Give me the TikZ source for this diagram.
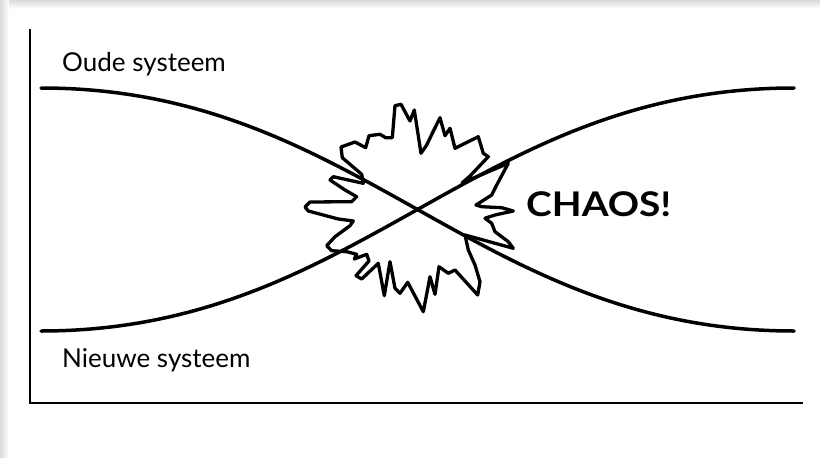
\documentclass[tikz,border=0pt]{standalone}
\usepackage{fontspec}
\setmainfont{Lato}
\begin{document}
\begin{tikzpicture}[x=1pt,y=-1pt,
  curve/.style={line width=3.5pt,line cap=round},
  axis/.style={line width=1.5pt},
  burst/.style={line width=3.3pt,line join=round},
  lbl/.style={anchor=base west,inner sep=0pt,font=\fontsize{26}{28}\selectfont},
  chaos/.style={anchor=base west,inner sep=0pt,xscale=1.14,font=\fontsize{34}{36}\selectfont\bfseries}]
\useasboundingbox (0,0) rectangle (820,458);
\fill[white] (0,0) rectangle (820,458);
\shade[top color=black!14,bottom color=white] (0,0) rectangle (820,9);
\shade[left color=black!14,right color=white] (0,0) rectangle (9,458);
% axes
\coordinate (atop) at (30,29);
\coordinate (aorig) at (30,403);
\coordinate (aend) at (803,403);
\draw[axis] (atop) -- (aorig) -- (aend);
% curves
\coordinate (o1) at (41,88);
\coordinate (o2) at (794,331);
\coordinate (n1) at (41,331);
\coordinate (n2) at (794,88);
\draw[curve] (o1) .. controls (360,88) and (475,331) .. (o2);
\draw[curve] (n1) .. controls (360,331) and (475,88) .. (n2);
% burst
\draw[burst] (341,147) -- (355,142) -- (365.7,147.7) -- (369,135.7) -- (380,134.3) -- (385.7,137.7) -- (392.3,137.7) -- (395,105.7) -- (401,104.3) -- (410,121) -- (414.3,110) -- (421,153.3) -- (426.7,145) -- (432.3,133.3) -- (440,117.7) -- (445,135.7) -- (450,128.3) -- (455,148.3) -- (478.3,136.7) -- (483.3,153.3) -- (488.3,156.7) -- (470,176) -- (462,183) -- (508.3,163.3) -- (496.7,185) -- (491.7,195) -- (476,205) -- (481.7,206.7) -- (501.7,207.7) -- (513.3,211) -- (495,215) -- (485,218.3) -- (491.7,223.3) -- (495,231.7) -- (508.3,241.7) -- (513.3,248.3) -- (465,235) -- (468.3,250) -- (475,265) -- (480,281.7) -- (477.7,295) -- (455,270) -- (448.3,273.3) -- (439,266.7) -- (435,294.3) -- (430,276.7) -- (423.3,311.7) -- (407.7,282.3) -- (400,293.3) -- (395,288.3) -- (390,261.7) -- (384.3,295.7) -- (378.3,263.3) -- (361.7,279) -- (356,275.7) -- (369,261) -- (366.7,254.3) -- (354.3,259) -- (356.7,254.3) -- (346.7,251.7) -- (331.7,250.7) -- (326.7,245.7) -- (335,236.7) -- (350,225.7) -- (353.3,221) -- (338.3,219) -- (308.3,211) -- (305,207) -- (310,202) -- (351.7,201.7) -- (356.7,196.7) -- (345,190) -- (330,180) -- (333.3,176.7) -- (363.3,183.3) -- (361.7,174.3) -- (342.3,157.7) -- cycle;
% labels
\node[lbl] (old) at (62,71) {Oude systeem};
\node[lbl] (new) at (62,367.5) {Nieuwe systeem};
\node[chaos] (chaos) at (526,216.7) {CHAOS!};
\end{tikzpicture}
\end{document}
